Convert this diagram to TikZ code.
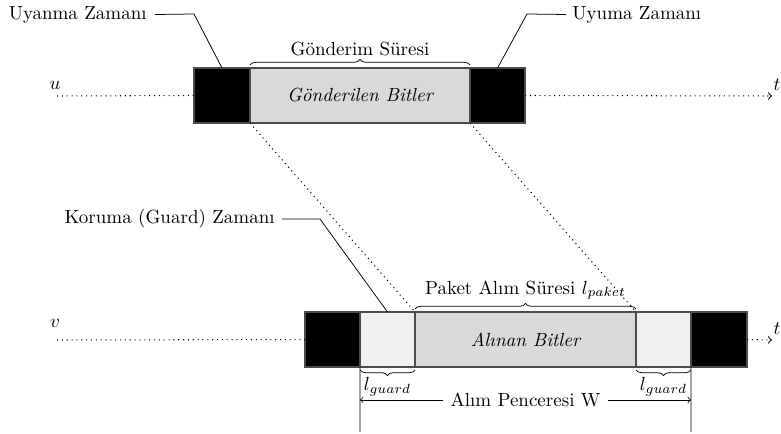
\documentclass[tikz,border=0pt]{standalone}
\usetikzlibrary{decorations.pathreplacing}
\begin{document}
\begin{tikzpicture}[x=0.526pt, y=-0.526pt,
  slot/.style={draw=black!70, line width=0.6pt, inner sep=0pt, outer sep=0pt,
               minimum height=28.93pt, anchor=north west},
  wakebox/.style={slot, fill=black},
  payload/.style={slot, fill=gray!30, font=\itshape},
  guardbox/.style={slot, fill=gray!12},
  callout/.style={inner sep=0pt},
  timeline/.style={dotted, line width=0.55pt},
  topbrace/.style={decorate, decoration={brace, amplitude=3pt, raise=1.5pt}},
  lowbrace/.style={decorate, decoration={brace, mirror, amplitude=3pt, raise=1.5pt}}]

\useasboundingbox (0,0) rectangle (781,434);

% sender u
\node[wakebox, minimum width=29.46pt] (A) at (194,68) {};
\node[payload, minimum width=115.72pt] (B) at (A.north east) {Gönderilen Bitler};
\node[wakebox, minimum width=28.93pt] (C) at (B.north east) {};

% receiver v
\node[wakebox, minimum width=28.93pt] (D) at (305,312) {};
\node[guardbox, minimum width=28.93pt] (E) at (D.north east) {};
\node[payload, minimum width=116.25pt] (F) at (E.north east) {Alınan Bitler};
\node[guardbox, minimum width=28.93pt] (G) at (F.north east) {};
\node[wakebox, minimum width=29.46pt] (H) at (G.north east) {};

% time axes
\coordinate (ustart) at (57,96);
\coordinate (uend) at (772,96);
\coordinate (vstart) at (57,340);
\coordinate (vend) at (772,340);
\node (ulbl) at (55,85) {$u$};
\node (tu) at (777,85) {$t$};
\node (vlbl) at (55,323) {$v$};
\node (tv) at (777,329) {$t$};
\draw[timeline] (ustart) -- (A.west);
\draw[timeline, ->] (C.east) -- (uend);
\draw[timeline] (vstart) -- (D.west);
\draw[timeline, ->] (H.east) -- (vend);

% propagation of the packet
\draw[timeline] (B.south west) -- (F.north west);
\draw[timeline] (B.south east) -- (F.north east);

% durations
\draw[topbrace] (B.north west) -- (B.north east)
  node[midway, above=3pt] (sendlbl) {Gönderim Süresi};
\draw[topbrace] (F.north west) -- (F.north east)
  node[midway, above=3pt] (pktlbl) {Paket Alım Süresi $l_{paket}$};
\draw[lowbrace] (E.south west) -- (E.south east)
  node[midway, below=2pt] (g1) {$l_{guard}$};
\draw[lowbrace] (G.south west) -- (G.south east)
  node[midway, below=2pt] (g2) {$l_{guard}$};

% receive window
\coordinate (wl) at (360,400);
\coordinate (wr) at (691,400);
\coordinate (lowL) at (360,432);
\coordinate (lowR) at (691,432);
\draw (E.south west) -- (lowL);
\draw (G.south east) -- (lowR);
\draw[<->] (wl) -- (wr)
  node[midway, fill=white, inner sep=4pt] (win) {Alım Penceresi W};

% callouts
\node[callout, anchor=east] (wakelbl) at (147,14.5) {Uyanma Zamanı};
\coordinate (wakek) at (194,14);
\draw ([xshift=8*0.526pt]wakelbl.east) -- (wakek) -- (A.north);

\node[callout, anchor=west] (sleeplbl) at (572,14.5) {Uyuma Zamanı};
\coordinate (sleepk) at (527,14);
\draw ([xshift=-6*0.526pt]sleeplbl.west) -- (sleepk) -- (C.north);

\node[callout, anchor=east] (guardlbl) at (275,219) {Koruma (Guard) Zamanı};
\coordinate (guardk) at (320,219);
\draw ([xshift=7*0.526pt]guardlbl.east) -- (guardk) -- (E.north);
\end{tikzpicture}
\end{document}
